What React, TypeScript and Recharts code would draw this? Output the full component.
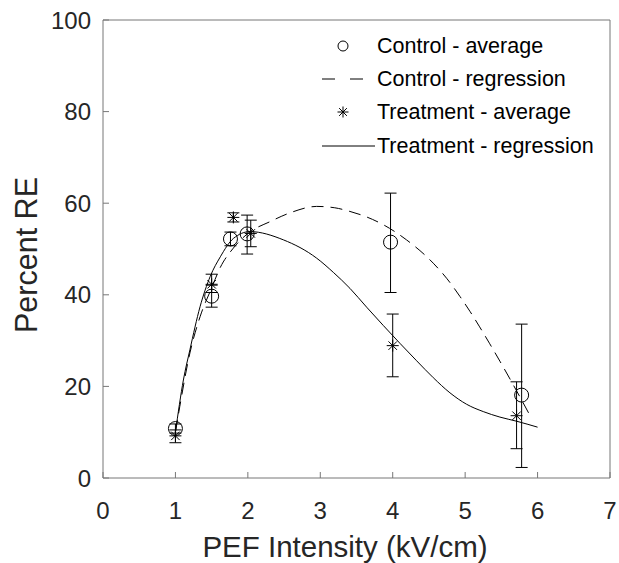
import { ComposedChart, Line, Scatter, XAxis, YAxis, ErrorBar } from "recharts";

const W = 619;
const H = 563;
const FONT = '"Liberation Sans", Arial, Helvetica, sans-serif';
const AXIS = "#777";
const TEXT = "#262626";

const xTicks = [0, 1, 2, 3, 4, 5, 6, 7];
const yTicks = [0, 20, 40, 60, 80, 100];

// averages with error bars
const controlX = [1.0, 1.5, 1.76, 1.99, 3.97, 5.78];
const controlY = [10.8, 39.7, 52.2, 53.3, 51.5, 18.1];
const controlErrLow = [1.0, 2.4, 1.5, 4.4, 11.0, 15.8];
const controlErrHigh = [1.0, 2.4, 1.5, 4.1, 10.7, 15.5];

const treatX = [1.0, 1.5, 1.8, 2.04, 4.0, 5.71];
const treatY = [9.2, 42.3, 56.9, 53.4, 28.9, 13.6];
const treatErrLow = [1.5, 1.8, 1.0, 2.9, 6.8, 7.2];
const treatErrHigh = [1.3, 2.2, 1.0, 2.9, 6.9, 7.4];

// regression curves
const ctrlRegX = [1.0, 1.06, 1.2, 1.34, 1.5, 1.62, 1.8, 2.0, 2.31, 2.6, 2.95, 3.2, 3.41, 3.64, 3.87, 4.19, 4.56, 4.75, 4.93, 5.07, 5.2, 5.34, 5.48, 5.62, 5.76, 5.9];
const ctrlRegY = [10, 15.6, 27.3, 35.2, 41.5, 46, 50.2, 53.4, 56.0, 58.0, 59.3, 59.0, 58.2, 57.0, 55.3, 52.0, 46.9, 43.5, 39.6, 36.3, 33.0, 29.3, 25.5, 21.6, 17.6, 13.5];

const treatRegX = [1.0, 1.11, 1.2, 1.34, 1.48, 1.62, 1.8, 2.03, 2.49, 2.95, 3.18, 3.41, 3.64, 3.87, 4.1, 4.33, 4.56, 4.79, 5.02, 5.25, 5.48, 5.71, 6.0];
const treatRegY = [10, 21.4, 28, 37.4, 44, 48.3, 52.3, 53.8, 52.0, 48.0, 44.9, 41.4, 37.3, 33.3, 29.4, 25.6, 21.9, 18.6, 16.1, 14.5, 13.3, 12.4, 11.1];

const legendLabels = ["Control - average", "Control - regression", "Treatment - average", "Treatment - regression"];

const CircleShape = (props: any) => (
  <circle cx={props.cx} cy={props.cy} r={7} fill="none" stroke="#000" strokeWidth={1} />
);

function star(cx: number, cy: number, r: number) {
  const d = r * 0.7071;
  return (
    <g stroke="#000" strokeWidth={1}>
      <line x1={cx - r} y1={cy} x2={cx + r} y2={cy} />
      <line x1={cx} y1={cy - r} x2={cx} y2={cy + r} />
      <line x1={cx - d} y1={cy - d} x2={cx + d} y2={cy + d} />
      <line x1={cx - d} y1={cy + d} x2={cx + d} y2={cy - d} />
    </g>
  );
}

const StarShape = (props: any) => star(props.cx, props.cy, 6);

export default function App() {
  const control = controlX.map((x, i) => ({
    x,
    y: controlY[i],
    err: [controlErrLow[i], controlErrHigh[i]],
  }));
  const treatment = treatX.map((x, i) => ({
    x,
    y: treatY[i],
    err: [treatErrLow[i], treatErrHigh[i]],
  }));
  const ctrlReg = ctrlRegX.map((x, i) => ({ x, y: ctrlRegY[i] }));
  const treatReg = treatRegX.map((x, i) => ({ x, y: treatRegY[i] }));

  const legendRows = [46, 79, 112, 146];

  return (
    <div
      style={{
        position: "absolute",
        left: 0,
        top: 0,
        width: W,
        height: H,
        background: "#fff",
        fontFamily: FONT,
      }}
    >
      <ComposedChart
        width={W}
        height={H}
        margin={{ top: 19, right: 8, bottom: 0, left: 0 }}
        style={{ fontFamily: FONT }}
      >
        <XAxis
          xAxisId="b"
          type="number"
          dataKey="x"
          domain={[0, 7]}
          ticks={xTicks}
          interval={0}
          height={85}
          tickSize={-6}
          tickMargin={30}
          stroke={AXIS}
          tick={{ fill: TEXT, fontSize: 24 }}
          allowDataOverflow
        />
        <XAxis
          xAxisId="t"
          orientation="top"
          type="number"
          dataKey="x"
          domain={[0, 7]}
          ticks={xTicks}
          interval={0}
          height={1}
          tickSize={-6}
          stroke={AXIS}
          tick={false}
          allowDataOverflow
        />
        <YAxis
          yAxisId="l"
          type="number"
          dataKey="y"
          domain={[0, 100]}
          ticks={yTicks}
          interval={0}
          width={103}
          tickSize={-6}
          tickMargin={18}
          stroke={AXIS}
          tick={{ fill: TEXT, fontSize: 24 }}
          allowDataOverflow
        />
        <YAxis
          yAxisId="r"
          orientation="right"
          type="number"
          dataKey="y"
          domain={[0, 100]}
          ticks={yTicks}
          interval={0}
          width={1}
          tickSize={-6}
          stroke={AXIS}
          tick={false}
          allowDataOverflow
        />
        <Line
          xAxisId="b"
          yAxisId="l"
          data={ctrlReg}
          dataKey="y"
          type="monotone"
          stroke="#000"
          strokeWidth={1}
          strokeDasharray="12 7"
          dot={false}
          isAnimationActive={false}
        />
        <Line
          xAxisId="b"
          yAxisId="l"
          data={treatReg}
          dataKey="y"
          type="monotone"
          stroke="#000"
          strokeWidth={1}
          dot={false}
          isAnimationActive={false}
        />
        <Scatter
          xAxisId="b"
          yAxisId="l"
          data={control}
          dataKey="y"
          shape={CircleShape}
          isAnimationActive={false}
        >
          <ErrorBar dataKey="err" direction="y" width={6} stroke="#000" strokeWidth={1} />
        </Scatter>
        <Scatter
          xAxisId="b"
          yAxisId="l"
          data={treatment}
          dataKey="y"
          shape={StarShape}
          isAnimationActive={false}
        >
          <ErrorBar dataKey="err" direction="y" width={6} stroke="#000" strokeWidth={1} />
        </Scatter>
      </ComposedChart>
      <svg
        width={W}
        height={H}
        style={{ position: "absolute", left: 0, top: 0, pointerEvents: "none" }}
        fontFamily={FONT}
      >
        <text x={345} y={557} textAnchor="middle" fontSize={29.5} fill={TEXT}>
          PEF Intensity (kV/cm)
        </text>
        <text
          x={37}
          y={255}
          textAnchor="middle"
          fontSize={30.5}
          fill={TEXT}
          transform="rotate(-90 37 255)"
        >
          Percent RE
        </text>
        <circle cx={343} cy={legendRows[0]} r={5} fill="none" stroke="#000" />
        <line x1={322} y1={legendRows[1]} x2={372} y2={legendRows[1]} stroke="#000" strokeDasharray="13 15" />
        {star(343, legendRows[2], 5.5)}
        <line x1={322} y1={legendRows[3]} x2={375} y2={legendRows[3]} stroke="#000" />
        {legendLabels.map((t, i) => (
          <text key={t} x={377} y={legendRows[i]} dominantBaseline="central" fontSize={21.5} fill="#000">
            {t}
          </text>
        ))}
      </svg>
    </div>
  );
}
